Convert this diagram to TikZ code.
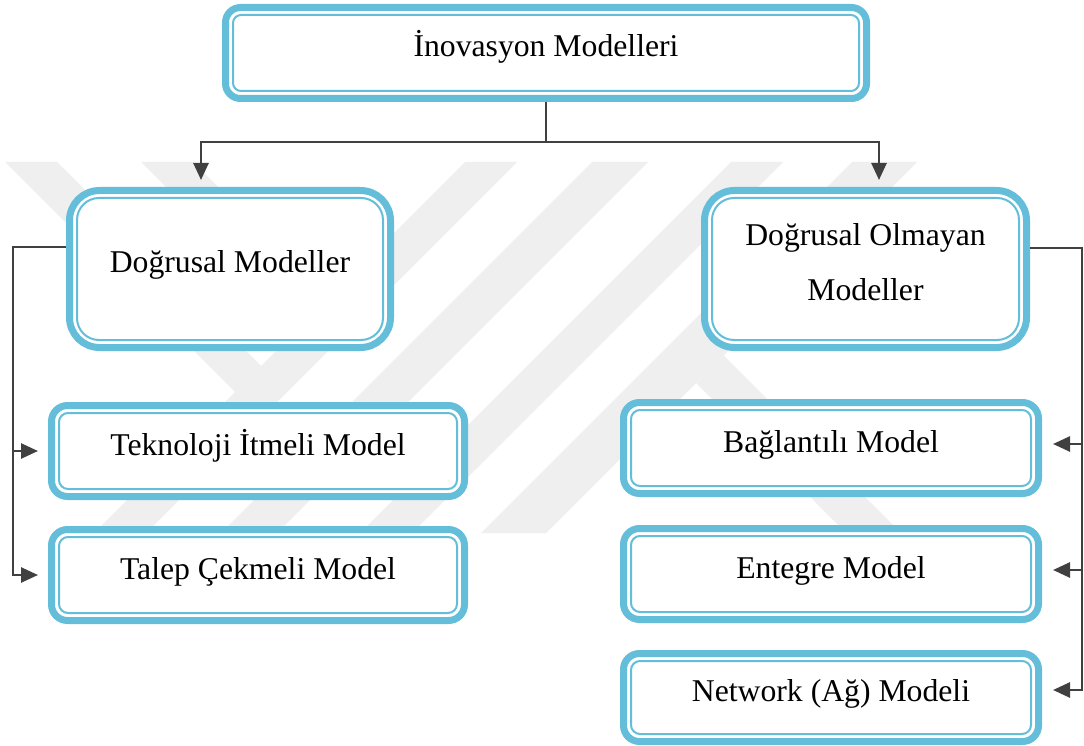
\documentclass[tikz,border=0pt]{standalone}
\usepackage{fontspec}
\setmainfont{Liberation Serif}
\usetikzlibrary{arrows.meta}
\definecolor{bblue}{RGB}{100,190,218}
\definecolor{lgray}{RGB}{64,64,64}
\definecolor{wm}{RGB}{239,239,239}
% #1 options, #2 name, #3 cx, #4 cy, #5 w, #6 h, #7 outer radius, #8 inner radius, #9 text
\newcommand\dbox[9][]{%
  \node[box, minimum width=#5pt, minimum height=#6pt, rounded corners=#7pt, #1] (#2) at (#3,#4) {#9};
  \draw[innerline, rounded corners=#8pt] ([shift={(11,11)}]#2.north west) rectangle ([shift={(-11,-11)}]#2.south east);
}
\begin{document}
\begin{tikzpicture}[x=1pt,y=-1pt,
  box/.style={draw=bblue, line width=7pt, fill=white, rectangle, inner sep=0pt,
    font=\fontsize{31.7}{38}\selectfont, text height=24pt, text depth=16pt},
  innerline/.style={draw=bblue, line width=2pt},
  conn/.style={draw=lgray, line width=2.6pt},
  arr/.style={conn, -{Triangle[length=17pt,width=15pt]}},
  wmark/.style={fill=wm, draw=none}]
\useasboundingbox (0,0) rectangle (1084,746);
\fill[white] (0,0) rectangle (1084,746);
% watermark
\begin{scope}
  \clip (0,162) rectangle (1084,533);
  \fill[wmark] (465,162) -- (517,162) -- (146,533) -- (94,533) -- cycle;
  \fill[wmark] (592,162) -- (648,162) -- (277,533) -- (221,533) -- cycle;
  \fill[wmark] (731,162) -- (783,162) -- (412,533) -- (360,533) -- cycle;
  \fill[wmark] (852,162) -- (917,162) -- (546,533) -- (481,533) -- cycle;
  \fill[wmark] (5,162) -- (57,162) -- (261,366) -- (261,418) -- cycle;
  \fill[wmark] (141,162) -- (193,162) -- (329,298) -- (303,324) -- cycle;
  \fill[wmark] (723.5,355.5) -- (901,533) -- (846,533) -- (696,383) -- cycle;
\end{scope}
% boxes
\dbox{top}{546}{53}{641}{91}{15}{8}{İnovasyon Modelleri}
\dbox[text height=22pt, text depth=16pt]{dm}{230}{269}{321}{157}{30}{22}{Doğrusal Modeller}
\dbox[align=center, font=\fontsize{31.7}{55}\selectfont, text height=62pt, text depth=0pt]{dom}{865.5}{269}{322}{157}{30}{22}{Doğrusal Olmayan\\Modeller}
\dbox{tim}{258}{451}{413}{91}{16}{9}{Teknoloji İtmeli Model}
\dbox{tcm}{258}{575}{413}{91}{16}{9}{Talep Çekmeli Model}
\dbox{bm}{831}{448}{415}{91}{16}{9}{Bağlantılı Model}
\dbox{em}{831}{574}{415}{91}{16}{9}{Entegre Model}
\dbox{nm}{831}{697.5}{415}{88}{16}{9}{Network (Ağ) Modeli}
% connectors
\coordinate (j) at (546,142);
\draw[conn] (top.south) -- (j);
\draw[arr, shorten >=7pt] (j) -| ([xshift=-29pt]dm.north);
\draw[arr, shorten >=7pt] (j) -| ([xshift=13.5pt]dom.north);
\coordinate (l1) at (13,451);
\coordinate (l2) at (13,575);
\draw[arr, shorten >=10pt] ([yshift=22pt]dm.west) -| (l2) -- (l2 -| tcm.west);
\draw[arr, shorten >=10pt] (l1) -- (l1 -| tim.west);
\coordinate (r1) at (1082,444);
\coordinate (r2) at (1082,570);
\coordinate (r3) at (1082,690);
\draw[arr, shorten >=11pt] ([yshift=21pt]dom.east) -| (r3) -- (r3 -| nm.east);
\draw[arr, shorten >=11pt] (r1) -- (r1 -| bm.east);
\draw[arr, shorten >=11pt] (r2) -- (r2 -| em.east);
\end{tikzpicture}
\end{document}
